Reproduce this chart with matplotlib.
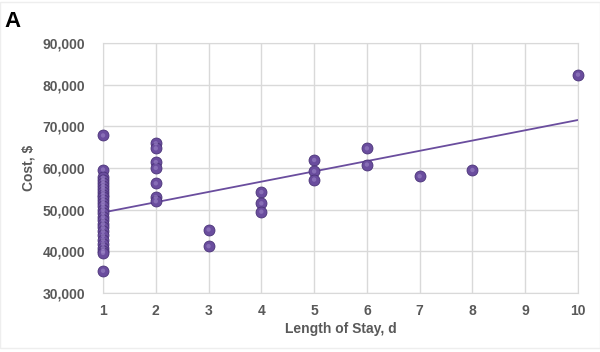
import matplotlib.pyplot as plt
from matplotlib.ticker import FuncFormatter
import matplotlib.patches as mpatches

plt.rcParams['font.family'] = ['Liberation Sans', 'DejaVu Sans']

# Length of stay (days) and cost ($) per patient
stay_1d = [67800, 59600, 57700, 57000, 56300, 55600, 55000, 54300, 53600, 52900,
           52200, 51500, 50800, 50000, 49200, 48300, 47500, 46600, 45700, 44800,
           43800, 42800, 41800, 40800, 40000, 39600, 35300]
stay_2d = [65900, 64700, 61400, 60000, 56300, 53000, 52000]
stay_3d = [45200, 41200]
stay_4d = [54200, 51500, 49500]
stay_5d = [61900, 59200, 57200]
stay_6d = [64700, 60800]
stay_7d = [58000]
stay_8d = [59500]
stay_10d = [82400]

days = [1] * len(stay_1d) + [2] * len(stay_2d) + [3] * len(stay_3d) + [4] * len(stay_4d) \
    + [5] * len(stay_5d) + [6] * len(stay_6d) + [7] * len(stay_7d) + [8] * len(stay_8d) \
    + [10] * len(stay_10d)
cost = stay_1d + stay_2d + stay_3d + stay_4d + stay_5d + stay_6d + stay_7d + stay_8d + stay_10d

# linear trendline endpoints
trend_x = [1, 10]
trend_y = [49300, 71500]

purple = '#6a4d9e'
grey_txt = '#595959'

fig = plt.figure(figsize=(6, 3.52), dpi=100)
ax = fig.add_axes([0.1717, 0.168, 0.7916, 0.710])

ax.plot(trend_x, trend_y, color=purple, linewidth=1.3, zorder=2)
ax.scatter(days, cost, s=62, color=purple, edgecolor='#4a3378', linewidth=0.6, zorder=3, clip_on=False)
# small highlight to mimic the glossy balls
ax.scatter(days, cost, s=10, color='#a58fcf', edgecolor='none', zorder=4, clip_on=False, alpha=0.5)

ax.set_xlim(1, 10)
ax.set_ylim(30000, 90000)
ax.set_xticks(range(1, 11))
ax.set_yticks(range(30000, 90001, 10000))
ax.yaxis.set_major_formatter(FuncFormatter(lambda v, p: f'{int(v):,}'))
ax.grid(True, color='#d9d9d9', linewidth=1)
ax.set_axisbelow(True)
for s in ax.spines.values():
    s.set_color('#d9d9d9')
ax.tick_params(length=0, pad=13, labelsize=10, labelcolor=grey_txt)
ax.tick_params(axis='x', pad=8)
for lbl in ax.get_xticklabels() + ax.get_yticklabels():
    lbl.set_fontweight('bold')

ax.set_xlabel('Length of Stay, d', fontsize=10, fontweight='bold', color=grey_txt, labelpad=3)
ax.set_ylabel('Cost, $', fontsize=10, fontweight='bold', color=grey_txt, labelpad=5)

fig.text(0.008, 0.922, 'A', fontsize=16, fontweight='bold', color='black')

# thin light frame lines at top and bottom of the image
fig.add_artist(mpatches.Rectangle((0, 0.01), 1, 0.985, transform=fig.transFigure,
                                  fill=False, edgecolor='#eeeeee', linewidth=1))

fig.savefig('out.png', dpi=100)
